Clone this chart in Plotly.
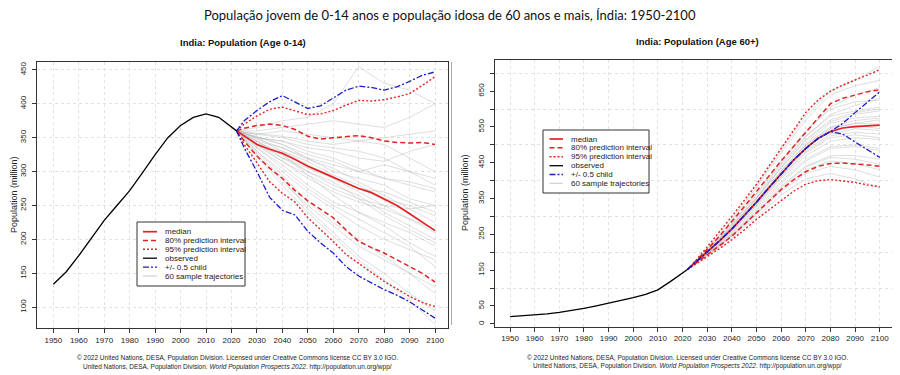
import plotly.graph_objects as go

# ---------------- DATA ----------------
obs_years = [1950, 1955, 1960, 1965, 1970, 1975, 1980, 1985, 1990, 1995, 2000, 2005, 2010, 2015, 2020, 2022]
proj_years = [2022, 2025, 2030, 2035, 2040, 2045, 2050, 2055, 2060, 2065, 2070, 2075, 2080, 2085, 2090, 2095, 2100]
traj_years = [2022, 2030, 2040, 2050, 2060, 2070, 2080, 2090, 2100]

# Age 0-14
young_obs = [134, 152, 176, 202, 228, 250, 272, 298, 325, 350, 368, 380, 385, 380, 366, 360]
young_median = [360, 352, 340, 333, 327, 318, 308, 300, 292, 284, 275, 269, 260, 250, 238, 226, 213]
young_80_hi = [360, 364, 368, 370, 368, 362, 352, 348, 350, 352, 353, 350, 345, 343, 342, 343, 340]
young_80_lo = [360, 345, 323, 305, 290, 272, 257, 245, 232, 214, 197, 188, 180, 170, 160, 150, 137]
young_95_hi = [360, 370, 382, 392, 395, 390, 384, 385, 390, 398, 405, 404, 406, 410, 415, 427, 440]
young_95_lo = [360, 340, 313, 285, 268, 255, 232, 215, 197, 178, 165, 152, 138, 127, 116, 107, 101]
young_child_hi = [360, 375, 390, 403, 412, 403, 393, 397, 408, 420, 426, 424, 420, 425, 433, 442, 447]
young_child_lo = [360, 335, 300, 262, 243, 236, 212, 195, 180, 160, 146, 136, 126, 118, 108, 96, 84]
young_trajectories = [
    [360, 350, 345, 330, 320, 305, 290, 280, 270],
    [360, 340, 325, 300, 280, 265, 240, 220, 200],
    [360, 355, 360, 355, 350, 345, 350, 355, 360],
    [360, 330, 300, 270, 245, 220, 200, 185, 170],
    [360, 345, 335, 320, 300, 290, 280, 260, 250],
    [360, 365, 375, 380, 400, 455, 430, 420, 400],
    [360, 335, 310, 280, 255, 240, 225, 210, 190],
    [360, 350, 340, 320, 310, 300, 310, 300, 290],
    [360, 325, 285, 250, 220, 190, 170, 150, 130],
    [360, 350, 330, 310, 290, 270, 250, 230, 210],
    [360, 355, 350, 340, 335, 330, 320, 300, 280],
    [360, 340, 320, 300, 285, 260, 235, 215, 195],
    [360, 345, 325, 295, 265, 240, 220, 195, 175],
    [360, 350, 345, 335, 330, 320, 315, 330, 340],
    [360, 338, 315, 290, 270, 255, 245, 230, 215],
    [360, 330, 295, 255, 225, 200, 175, 150, 120],
    [360, 352, 340, 325, 315, 300, 290, 285, 275],
    [360, 345, 320, 305, 290, 275, 270, 255, 240],
    [360, 360, 365, 370, 375, 370, 365, 380, 400],
    [360, 335, 305, 275, 250, 230, 210, 190, 160],
    [360, 342, 330, 315, 295, 280, 260, 250, 235],
    [360, 328, 290, 245, 210, 175, 150, 120, 95],
    [360, 348, 335, 318, 305, 285, 265, 245, 225],
    [360, 356, 352, 345, 340, 345, 340, 320, 300],
    [360, 340, 315, 295, 275, 260, 250, 245, 250],
    [360, 322, 280, 240, 205, 170, 140, 110, 75],
]

# Age 60+
old_obs = [20, 22, 25, 28, 32, 37, 43, 50, 57, 65, 73, 82, 95, 118, 142, 152]
old_median = [152, 170, 200, 232, 265, 302, 340, 380, 420, 457, 490, 518, 537, 547, 551, 554, 555]
old_80_hi = [152, 172, 208, 245, 285, 327, 370, 413, 455, 495, 535, 578, 615, 630, 640, 648, 654]
old_80_lo = [152, 167, 192, 218, 245, 277, 310, 343, 375, 402, 425, 440, 448, 449, 447, 444, 440]
old_95_hi = [152, 174, 215, 257, 300, 345, 390, 440, 490, 540, 590, 625, 650, 667, 680, 695, 710]
old_95_lo = [152, 165, 187, 210, 235, 262, 292, 318, 345, 370, 390, 400, 403, 400, 395, 388, 383]
old_child_hi = [152, 170, 200, 232, 265, 302, 340, 380, 420, 457, 490, 518, 537, 560, 590, 619, 648]
old_child_lo = [152, 170, 200, 232, 265, 302, 340, 380, 420, 457, 490, 518, 537, 530, 508, 487, 465]
old_trajectories = [
    [152, 200, 265, 340, 420, 495, 545, 560, 570],
    [152, 195, 250, 315, 385, 440, 470, 470, 460],
    [152, 205, 280, 365, 455, 540, 600, 620, 625],
    [152, 198, 258, 330, 405, 470, 510, 520, 515],
    [152, 202, 270, 350, 435, 515, 570, 590, 600],
    [152, 192, 245, 305, 370, 420, 440, 430, 410],
    [152, 200, 262, 338, 418, 490, 540, 555, 545],
    [152, 208, 288, 380, 478, 570, 640, 665, 680],
    [152, 197, 255, 325, 398, 460, 495, 500, 490],
    [152, 203, 272, 352, 440, 522, 585, 610, 630],
    [152, 199, 262, 335, 412, 480, 525, 535, 530],
    [152, 190, 240, 298, 360, 405, 420, 405, 380],
    [152, 201, 268, 345, 428, 505, 560, 575, 580],
    [152, 205, 278, 360, 450, 535, 605, 640, 660],
    [152, 196, 252, 320, 392, 455, 490, 495, 485],
    [152, 200, 266, 342, 425, 500, 550, 568, 575],
    [152, 194, 248, 312, 380, 438, 465, 460, 445],
    [152, 204, 275, 355, 445, 525, 580, 595, 605],
    [152, 210, 292, 385, 485, 580, 650, 680, 720],
    [152, 198, 260, 332, 410, 478, 520, 528, 520],
    [152, 201, 266, 342, 425, 500, 548, 560, 558],
    [152, 193, 246, 308, 375, 430, 455, 448, 430],
    [152, 202, 272, 350, 436, 512, 565, 585, 595],
    [152, 199, 263, 336, 415, 485, 530, 545, 540],
]

x_ticks = list(range(1950, 2101, 10))
young_yticks = list(range(100, 451, 50))
old_ylabel_ticks = [0, 50, 150, 250, 350, 450, 550, 650]
old_grid_ticks = [100, 200, 300, 400, 500, 600, 700]

legend_labels = ["median", "80% prediction interval", "95% prediction interval",
                 "observed", "+/- 0.5 child", "60 sample trajectories"]

main_title = "População jovem de 0-14 anos e população idosa de 60 anos e mais, Índia: 1950-2100"
left_title = "India: Population (Age 0-14)"
right_title = "India: Population (Age 60+)"
y_title = "Population (million)"
credit1 = "© 2022 United Nations, DESA, Population Division. Licensed under Creative Commons license CC BY 3.0 IGO."
credit2 = "United Nations, DESA, Population Division. <i>World Population Prospects 2022</i>. http://population.un.org/wpp/"

# ---------------- STYLE ----------------
# The page body has an 8px margin; the figure is sized to fit inside the 900x375 window
OFF = 8
W, H = 900 - OFF, 375 - OFF
RED = "#e02424"
BLUE = "#1c1ccc"
GRAY = "rgba(185,185,185,0.6)"
GRID = "#e2e2e2"
FONT = "Liberation Sans, Arial, sans-serif"


def px(x):
    return (x - OFF) / W


def py(y):
    return 1 - (y - OFF) / H


fig = go.Figure()


def add_panel(xa, ya, obs, med, h80, l80, h95, l95, ch, cl, trajs):
    for t in trajs:
        fig.add_trace(go.Scatter(x=traj_years, y=t, xaxis=xa, yaxis=ya, mode="lines",
                                 line=dict(color=GRAY, width=0.8), hoverinfo="skip", showlegend=False))
    for arr in (h95, l95):
        fig.add_trace(go.Scatter(x=proj_years, y=arr, xaxis=xa, yaxis=ya, mode="lines",
                                 line=dict(color=RED, width=1.4, dash="2px,2px"), showlegend=False))
    for arr in (h80, l80):
        fig.add_trace(go.Scatter(x=proj_years, y=arr, xaxis=xa, yaxis=ya, mode="lines",
                                 line=dict(color=RED, width=1.5, dash="5px,3px"), showlegend=False))
    fig.add_trace(go.Scatter(x=proj_years, y=med, xaxis=xa, yaxis=ya, mode="lines",
                             line=dict(color=RED, width=1.7), showlegend=False))
    for arr in (ch, cl):
        fig.add_trace(go.Scatter(x=proj_years, y=arr, xaxis=xa, yaxis=ya, mode="lines",
                                 line=dict(color=BLUE, width=1.3, dash="6px,2px,2px,2px"), showlegend=False))
    fig.add_trace(go.Scatter(x=obs_years, y=obs, xaxis=xa, yaxis=ya, mode="lines",
                             line=dict(color="black", width=1.3), showlegend=False))


add_panel("x", "y", young_obs, young_median, young_80_hi, young_80_lo, young_95_hi, young_95_lo,
          young_child_hi, young_child_lo, young_trajectories)
add_panel("x2", "y2", old_obs, old_median, old_80_hi, old_80_lo, old_95_hi, old_95_lo,
          old_child_hi, old_child_lo, old_trajectories)

axis_common = dict(showline=True, mirror=True, linecolor="#333", linewidth=1, ticks="outside",
                   ticklen=4, tickcolor="#333", tickfont=dict(family=FONT, size=8, color="#222"),
                   zeroline=False, gridcolor=GRID, griddash="dot", gridwidth=1, automargin=False)

# plot-area boxes in window pixels
L = dict(x0=37.3, x1=448.3, y0=61.7, y1=328.3)
R = dict(x0=495, x1=896.5, y0=60, y1=326.7)

fig.update_layout(
    width=W, height=H, margin=dict(l=0, r=0, t=0, b=0, autoexpand=False),
    paper_bgcolor="white", plot_bgcolor="white", showlegend=False,
    xaxis=dict(domain=[px(L["x0"]), px(L["x1"])], range=[1943.7, 2105.2], anchor="y",
               tickvals=x_ticks, showgrid=True, **axis_common),
    yaxis=dict(domain=[py(L["y1"]), py(L["y0"])], range=[69, 462], anchor="x",
               tickvals=young_yticks, tickangle=-90, showgrid=True, ticklabelstandoff=3, **axis_common),
    xaxis2=dict(domain=[px(R["x0"]), px(R["x1"])], range=[1943.9, 2106.8], anchor="y2",
                tickvals=x_ticks, showgrid=True, **axis_common),
    yaxis2=dict(domain=[py(R["y1"]), py(R["y0"])], range=[-8, 737], anchor="x2",
                tickvals=old_ylabel_ticks, tickangle=-90, showgrid=False, ticklabelstandoff=3,
                minor=dict(tickvals=old_grid_ticks, ticks="outside", ticklen=4, tickcolor="#333",
                           showgrid=True, gridcolor=GRID, griddash="dot"),
                **axis_common),
)

annotations = [
    dict(x=px(450), y=py(15), text=main_title, font=dict(family="Lato, Open Sans, sans-serif", size=13, color="#111")),
    dict(x=px(243), y=py(42.5), text=f"<b>{left_title}</b>", font=dict(family=FONT, size=9.5, color="#111")),
    dict(x=px(697), y=py(41), text=f"<b>{right_title}</b>", font=dict(family=FONT, size=9.5, color="#111")),
    dict(x=px(14), y=py(195), text=y_title, textangle=-90, font=dict(family=FONT, size=9, color="#222")),
    dict(x=px(465), y=py(193), text=y_title, textangle=-90, font=dict(family=FONT, size=9, color="#222")),
    dict(x=px(237), y=py(358), text=credit1, font=dict(family=FONT, size=6.5, color="#222")),
    dict(x=px(237), y=py(366.5), text=credit2, font=dict(family=FONT, size=6.5, color="#222")),
    dict(x=px(687), y=py(357.5), text=credit1, font=dict(family=FONT, size=6.5, color="#222")),
    dict(x=px(687), y=py(366), text=credit2, font=dict(family=FONT, size=6.5, color="#222")),
]
for a in annotations:
    a.update(xref="paper", yref="paper", showarrow=False, xanchor="center", yanchor="middle")

shapes = [
    dict(type="line", xref="paper", yref="paper", x0=px(451.5), x1=px(451.5), y0=py(62), y1=py(325),
         line=dict(color="#aaa", width=1)),
]

legend_styles = [
    dict(color=RED, width=1.7, dash="solid"),
    dict(color=RED, width=1.5, dash="5px,3px"),
    dict(color=RED, width=1.4, dash="2px,2px"),
    dict(color="black", width=1.3, dash="solid"),
    dict(color=BLUE, width=1.3, dash="6px,2px,2px,2px"),
    dict(color="#c8c8c8", width=1, dash="solid"),
]


def add_legend(bx0, bx1, by0, by1, rows, lx0, lx1, tx):
    shapes.append(dict(type="rect", xref="paper", yref="paper", x0=px(bx0), x1=px(bx1),
                       y0=py(by1), y1=py(by0), line=dict(color="#333", width=1), fillcolor="white"))
    for ry, lab, st in zip(rows, legend_labels, legend_styles):
        shapes.append(dict(type="line", xref="paper", yref="paper", x0=px(lx0), x1=px(lx1),
                           y0=py(ry), y1=py(ry), line=st))
        annotations.append(dict(xref="paper", yref="paper", x=px(tx), y=py(ry), text=lab,
                                showarrow=False, xanchor="left", yanchor="middle",
                                font=dict(family=FONT, size=8, color="#222")))


add_legend(137, 245, 222, 286, [231.7, 240.5, 249.2, 258.2, 267.2, 276], 143, 157, 162.5)
add_legend(543, 649, 130, 193, [139, 147.8, 156.7, 165.7, 174.5, 183.3], 549.5, 563, 568.5)

fig.update_layout(annotations=annotations, shapes=shapes)
fig.write_html("out.html")
